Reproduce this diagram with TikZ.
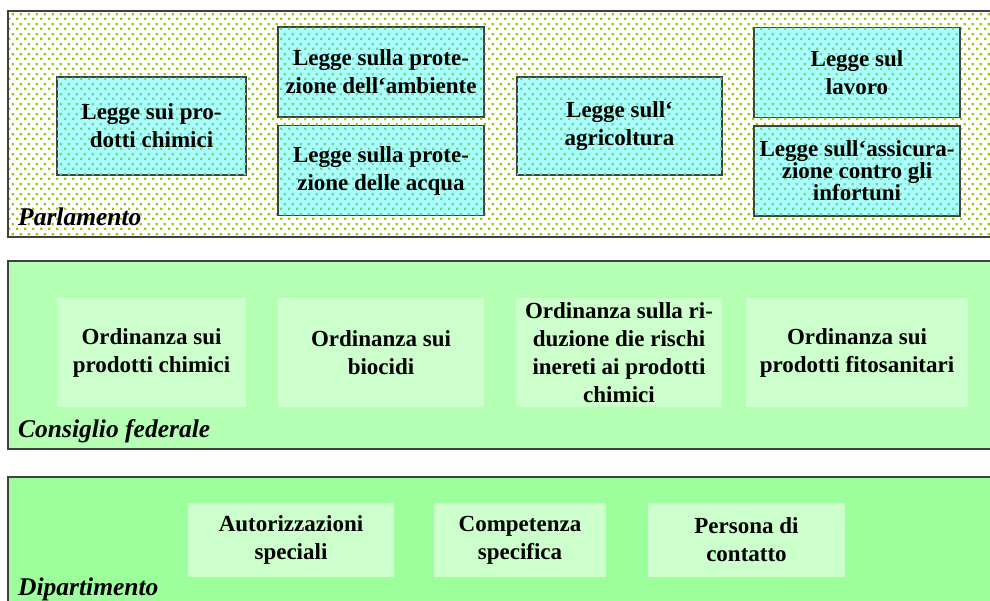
\documentclass[tikz,border=0pt]{standalone}
\usepackage{fontspec}
\setmainfont{Liberation Serif}
\usetikzlibrary{patterns}
\definecolor{frame}{HTML}{404040}
\definecolor{olive}{HTML}{99CC00}
\definecolor{aqua}{HTML}{A8FFFF}
\definecolor{aquadot}{HTML}{80D080}
\definecolor{mint}{HTML}{B4FFB4}
\definecolor{grass}{HTML}{9CFF9C}
\definecolor{palemint}{HTML}{CCFFCC}
\pgfdeclarepatternformonly{parldots}{\pgfqpoint{0pt}{0pt}}{\pgfqpoint{8pt}{10pt}}{\pgfqpoint{8pt}{10pt}}{%
  \pgfpathrectangle{\pgfqpoint{0pt}{0pt}}{\pgfqpoint{2.6pt}{2.6pt}}%
  \pgfpathrectangle{\pgfqpoint{4pt}{5pt}}{\pgfqpoint{2.6pt}{2.6pt}}%
  \pgfusepath{fill}}

\begin{document}
\begin{tikzpicture}[x=1pt,y=-1pt,
  boxfont/.style={font=\fontsize{23}{28}\selectfont\bfseries},
  lawbox/.style={boxfont,draw=frame,line width=1.2pt,fill=aqua,postaction={pattern=parldots,pattern color=aquadot},inner sep=0pt,minimum width=206pt,minimum height=90pt,align=center},
  ordbox/.style={boxfont,fill=palemint,inner sep=0pt,minimum width=206pt,minimum height=109pt,align=center},
  depbox/.style={boxfont,fill=palemint,inner sep=0pt,minimum height=74pt,align=center},
  level/.style={anchor=base west,inner sep=0pt,font=\fontsize{25.5}{30}\selectfont\bfseries\itshape},
  panel/.style={frame,line width=1.6pt}]
  \clip (0,0) rectangle (990,600);
  \fill[white] (0,0) rectangle (990,600);

  \fill[pattern=parldots,pattern color=olive] (8,11) rectangle (1000,237);
  \draw[panel] (8,11) rectangle (1000,237);
  \node[lawbox,minimum width=189pt,minimum height=98pt] (chem) at (151.5,126) {Legge sui pro-\\dotti chimici};
  \node[lawbox] (amb) at (381,72) {Legge sulla prote-\\zione dell‘ambiente};
  \node[lawbox] (acq) at (381,170.5) {Legge sulla prote-\\zione delle acqua};
  \node[lawbox,minimum width=205pt,minimum height=98pt] (agr) at (619.5,126) {Legge sull‘\\agricoltura};
  \node[lawbox] (lav) at (857,72.5) {Legge sul\\lavoro};
  \node[lawbox,font=\fontsize{23}{20}\selectfont\bfseries] (ass) at (857,171) {Legge sull‘assicura-\\zione contro gli\\infortuni};
  \node[level] (parl) at (18,225) {Parlamento};

  \fill[mint] (8,261) rectangle (1000,449);
  \draw[panel] (8,261) rectangle (1000,449);
  \node[ordbox,minimum width=189pt] (ochem) at (151.5,352.5) {Ordinanza sui\\prodotti chimici};
  \node[ordbox] (obio) at (381,352.5) {Ordinanza sui\\biocidi};
  \node[ordbox] (orid) at (619,352.5) {Ordinanza sulla ri-\\duzione die rischi\\inereti ai prodotti\\chimici};
  \node[ordbox,minimum width=222pt] (ofito) at (857,352.5) {Ordinanza sui\\prodotti fitosanitari};
  \node[level] (cons) at (18,437) {Consiglio federale};

  \fill[grass] (8,477) rectangle (1000,620);
  \draw[panel] (8,477) rectangle (1000,620);
  \node[depbox,minimum width=206pt] (aut) at (291,540) {Autorizzazioni\\speciali};
  \node[depbox,minimum width=172pt] (comp) at (520,540) {Competenza\\specifica};
  \node[depbox,minimum width=197pt] (pers) at (746.5,540) {Persona di\\contatto};
  \node[level] (dip) at (18,595) {Dipartimento};
\end{tikzpicture}
\end{document}
